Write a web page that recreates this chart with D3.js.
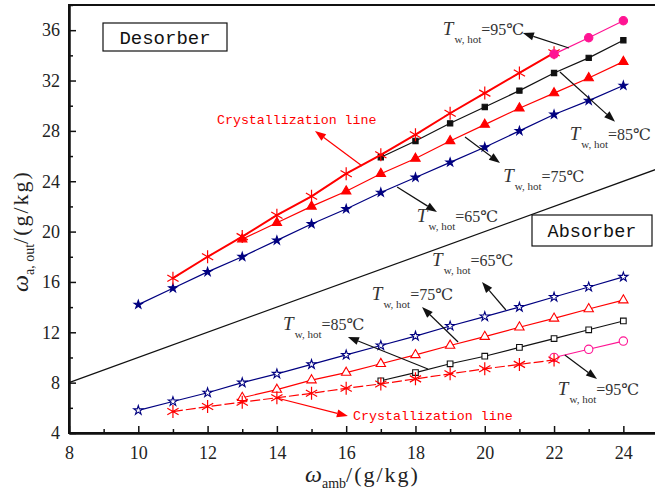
<!DOCTYPE html>
<html>
<head>
<meta charset="utf-8">
<script src="https://cdn.jsdelivr.net/npm/d3@7"></script>
<style>
	body { margin: 0; background: #fff; }
	svg { display: block; }
</style>
</head>
<body>
<div id="dataviz"></div>
<script>
// axis ticks
const xTicks = [8, 10, 12, 14, 16, 18, 20, 22, 24];
const xMinorTicks = [9, 11, 13, 15, 17, 19, 21, 23, 25];
const yTicks = [4, 8, 12, 16, 20, 24, 28, 32, 36];
const yMinorTicks = [6, 10, 14, 18, 22, 26, 30, 34, 38];

// desorber (filled markers)
const des65X = [10, 11, 12, 13, 14, 15, 16, 17, 18, 19, 20, 21, 22, 23, 24];
const des65Y = [14.2, 15.5, 16.8, 18.0, 19.3, 20.6, 21.8, 23.1, 24.3, 25.5, 26.7, 28.0, 29.3, 30.4, 31.6];
const des75X = [13, 14, 15, 16, 17, 18, 19, 20, 21, 22, 23, 24];
const des75Y = [19.4, 20.7, 22.0, 23.2, 24.6, 25.8, 27.2, 28.5, 29.8, 31.0, 32.2, 33.5];
const des85X = [17, 18, 19, 20, 21, 22, 23, 24];
const des85Y = [25.9, 27.2, 28.6, 29.9, 31.2, 32.6, 33.8, 35.2];
const des95X = [22, 23, 24];
const des95Y = [34.1, 35.4, 36.75];
const desCrystX = [11, 12, 13, 14, 15, 16, 17, 18, 19, 20, 21, 22];
const desCrystY = [16.3, 18.0, 19.6, 21.3, 22.8, 24.6, 26.1, 27.7, 29.4, 31.0, 32.6, 34.2];

// absorber (open markers)
const abs65X = [10, 11, 12, 13, 14, 15, 16, 17, 18, 19, 20, 21, 22, 23, 24];
const abs65Y = [5.8, 6.5, 7.2, 8.0, 8.7, 9.45, 10.2, 10.95, 11.7, 12.5, 13.25, 14.0, 14.8, 15.6, 16.4];
const abs75X = [13, 14, 15, 16, 17, 18, 19, 20, 21, 22, 23, 24];
const abs75Y = [6.8, 7.45, 8.2, 8.8, 9.5, 10.2, 10.95, 11.65, 12.4, 13.1, 13.85, 14.55];
const abs85X = [17, 18, 19, 20, 21, 22, 23, 24];
const abs85Y = [8.15, 8.8, 9.5, 10.1, 10.8, 11.5, 12.2, 12.9];
const abs95X = [22, 23, 24];
const abs95Y = [10.0, 10.65, 11.3];
const absCrystX = [11, 12, 13, 14, 15, 16, 17, 18, 19, 20, 21, 22];
const absCrystY = [5.7, 6.1, 6.45, 6.8, 7.15, 7.55, 7.9, 8.3, 8.7, 9.1, 9.45, 9.8];

// y = x reference line
const eqX = [8, 25];
const eqY = [8, 25];

// annotations: label, text anchor, arrow from -> to (data units)
const tempLabels = ['95', '85', '75', '65', '65', '75', '85', '95'];
const tempTextAt = [[18.79, 35.62], [22.45, 27.28], [20.53, 23.94], [18.04, 20.76],
	[18.48, 17.27], [16.74, 14.57], [14.18, 12.18], [22.11, 7.02]];
const tempArrows = [[[22.43, 34.58], [21.10, 35.78]], [[22.17, 32.68], [23.76, 28.73]],
	[[19.43, 27.51], [20.44, 25.45]], [[17.47, 23.54], [18.62, 21.56]],
	[[20.61, 13.77], [19.92, 16.0]], [[19.23, 11.23], [18.19, 14.0]],
	[[18.36, 9.08], [16.05, 11.63]], [[22.31, 10.2], [23.24, 8.29]]];
const crystTextAt = [[12.27, 28.55], [16.2, 5.03]];
const crystArrows = [[[16.46, 25.21], [15.10, 27.99]], [[14.0, 6.78], [16.05, 5.35]]];

window.onload = function() {

	const width = 655;
	const height = 496;

	const svg = d3.select('#dataviz')
		.append('svg')
		.attr('width', width)
		.attr('height', height);

	const xScale = d3.scaleLinear()
		.domain([8, 25])
		.range([69, 658]);

	const yScale = d3.scaleLinear()
		.domain([4, 38])
		.range([433, 5]);

	const navy = '#000080';
	const red = '#ff0000';
	const pink = '#ff1493';

	const zip = (xs, ys) => xs.map((v, i) => [v, ys[i]]);

	// frame
	svg.append('rect')
		.attr('x', xScale(8))
		.attr('y', yScale(38))
		.attr('width', xScale(25) - xScale(8))
		.attr('height', yScale(4) - yScale(38))
		.attr('fill', 'none')
		.attr('stroke', '#111')
		.attr('stroke-width', 2);

	// axes
	const xAxis = d3.axisBottom(xScale)
		.tickValues(xTicks)
		.tickSizeInner(-7)
		.tickSizeOuter(0)
		.tickPadding(13)
		.tickFormat(d3.format('d'));

	const xMinor = d3.axisBottom(xScale)
		.tickValues(xMinorTicks)
		.tickSizeInner(-4)
		.tickSizeOuter(0)
		.tickFormat('');

	const yAxis = d3.axisLeft(yScale)
		.tickValues(yTicks)
		.tickSizeInner(-7)
		.tickSizeOuter(0)
		.tickPadding(9)
		.tickFormat(d3.format('d'));

	const yMinor = d3.axisLeft(yScale)
		.tickValues(yMinorTicks)
		.tickSizeInner(-4)
		.tickSizeOuter(0)
		.tickFormat('');

	const styleAxis = g => {
		g.select('.domain').attr('stroke', '#111').attr('stroke-width', 2);
		g.selectAll('.tick line').attr('stroke', '#111').attr('stroke-width', 1.5);
		g.selectAll('.tick text')
			.attr('fill', '#222')
			.style('font-family', '"Liberation Serif", "DejaVu Serif", serif')
			.style('font-size', '18px');
	};

	svg.append('g').attr('transform', `translate(0, ${yScale(4)})`).call(xMinor).call(styleAxis);
	svg.append('g').attr('transform', `translate(0, ${yScale(4)})`).call(xAxis).call(styleAxis);
	svg.append('g').attr('transform', `translate(${xScale(8)}, 0)`).call(yMinor).call(styleAxis);
	svg.append('g').attr('transform', `translate(${xScale(8)}, 0)`).call(yAxis).call(styleAxis);

	// axis titles
	const serif = '"Liberation Serif", "DejaVu Serif", serif';

	const xTitle = svg.append('text')
		.attr('x', 305)
		.attr('y', 482)
		.attr('fill', '#222')
		.style('font-family', serif);
	xTitle.append('tspan').attr('font-style', 'italic').attr('font-size', 24).text('ω');
	xTitle.append('tspan').attr('font-size', 14).attr('dy', 6).text('amb');
	xTitle.append('tspan').attr('font-size', 22).attr('dy', -6).attr('letter-spacing', 2).text('/(g/kg)');

	const yTitle = svg.append('text')
		.attr('transform', 'translate(28, 292) rotate(-90)')
		.attr('fill', '#222')
		.style('font-family', serif);
	yTitle.append('tspan').attr('font-style', 'italic').attr('font-size', 24).text('ω');
	yTitle.append('tspan').attr('font-size', 14).attr('dy', 6).text('a, out');
	yTitle.append('tspan').attr('font-size', 22).attr('dy', -6).attr('letter-spacing', 2).text('/(g/kg)');

	// y = x line
	const line = d3.line()
		.x(d => xScale(d[0]))
		.y(d => yScale(d[1]));

	svg.append('path')
		.datum(zip(eqX, eqY))
		.attr('d', line)
		.attr('fill', 'none')
		.attr('stroke', '#111')
		.attr('stroke-width', 1.2);

	// marker shapes
	const asterisk = r => {
		const a = Math.PI / 6;
		const dx = r * Math.cos(a), dy = r * Math.sin(a);
		return `M0,${-r}L0,${r}M${-dx},${-dy}L${dx},${dy}M${-dx},${dy}L${dx},${-dy}`;
	};

	function drawSeries(xs, ys, opts) {
		const pts = zip(xs, ys);
		svg.append('path')
			.datum(pts)
			.attr('d', line)
			.attr('fill', 'none')
			.attr('stroke', opts.color)
			.attr('stroke-width', opts.lineWidth || 1.2)
			.attr('stroke-dasharray', opts.dash || null);

		const marks = svg.append('g')
			.selectAll('path')
			.data(pts)
			.enter()
			.append('path')
			.attr('transform', d => `translate(${xScale(d[0])}, ${yScale(d[1])})`);

		if (opts.symbol === 'asterisk') {
			marks.attr('d', asterisk(6.5))
				.attr('fill', 'none')
				.attr('stroke', opts.color)
				.attr('stroke-width', 1.2);
		} else {
			marks.attr('d', d3.symbol().type(opts.symbol).size(opts.size))
				.attr('fill', opts.open ? '#fff' : opts.color)
				.attr('stroke', opts.color)
				.attr('stroke-width', 1.1);
		}
	}

	// absorber
	drawSeries(abs65X, abs65Y, { color: navy, symbol: d3.symbolStar, size: 26, open: true });
	drawSeries(abs75X, abs75Y, { color: red, symbol: d3.symbolTriangle, size: 38, open: true });
	drawSeries(abs85X, abs85Y, { color: '#111', symbol: d3.symbolSquare, size: 32, open: true });
	drawSeries(abs95X, abs95Y, { color: pink, symbol: d3.symbolCircle, size: 55, open: true });
	drawSeries(absCrystX, absCrystY, { color: red, symbol: 'asterisk', dash: '10,3' });

	// desorber
	drawSeries(des65X, des65Y, { color: navy, symbol: d3.symbolStar, size: 22 });
	drawSeries(des75X, des75Y, { color: red, symbol: d3.symbolTriangle, size: 38 });
	drawSeries(des85X, des85Y, { color: '#111', symbol: d3.symbolSquare, size: 28 });
	drawSeries(desCrystX, desCrystY, { color: red, symbol: 'asterisk', lineWidth: 2 });
	drawSeries(des95X, des95Y, { color: pink, symbol: d3.symbolCircle, size: 55 });

	// arrows
	function drawArrow(from, to, color) {
		const x1 = xScale(from[0]), y1 = yScale(from[1]);
		const x2 = xScale(to[0]), y2 = yScale(to[1]);
		const ang = Math.atan2(y2 - y1, x2 - x1);
		const len = 11, half = 4;
		const bx = x2 - len * Math.cos(ang), by = y2 - len * Math.sin(ang);
		svg.append('line')
			.attr('x1', x1).attr('y1', y1)
			.attr('x2', bx).attr('y2', by)
			.attr('stroke', color)
			.attr('stroke-width', 1.2);
		svg.append('path')
			.attr('d', `M${x2},${y2}L${bx - half * Math.sin(ang)},${by + half * Math.cos(ang)}L${bx + half * Math.sin(ang)},${by - half * Math.cos(ang)}Z`)
			.attr('fill', color);
	}

	tempArrows.forEach(a => drawArrow(a[0], a[1], '#111'));
	crystArrows.forEach(a => drawArrow(a[0], a[1], red));

	// temperature labels
	tempLabels.forEach((t, i) => {
		const txt = svg.append('text')
			.attr('x', xScale(tempTextAt[i][0]))
			.attr('y', yScale(tempTextAt[i][1]))
			.attr('fill', '#333')
			.style('font-family', serif);
		txt.append('tspan').attr('font-style', 'italic').attr('font-size', 19).text('T');
		txt.append('tspan').attr('font-size', 11).attr('dy', 8).attr('dx', 1).text('w, hot');
		txt.append('tspan').attr('font-size', 16).attr('dy', -8).text(`=${t}℃`);
	});

	crystTextAt.forEach(p => {
		svg.append('text')
			.attr('x', xScale(p[0]))
			.attr('y', yScale(p[1]))
			.attr('fill', red)
			.style('font-family', '"Liberation Mono", "DejaVu Sans Mono", monospace')
			.style('font-size', '13.3px')
			.text('Crystallization line');
	});

	// region boxes
	const boxes = [
		{ label: 'Desorber', x: 103, y: 23, w: 124, h: 28, size: 19 },
		{ label: 'Absorber', x: 532, y: 215, w: 120, h: 31, size: 18.5 }
	];

	boxes.forEach(b => {
		svg.append('rect')
			.attr('x', b.x).attr('y', b.y)
			.attr('width', b.w).attr('height', b.h)
			.attr('fill', '#fff')
			.attr('stroke', '#111')
			.attr('stroke-width', 1.2);
		svg.append('text')
			.attr('x', b.x + b.w / 2)
			.attr('y', b.y + b.h / 2)
			.attr('dy', '0.35em')
			.attr('text-anchor', 'middle')
			.attr('fill', '#111')
			.style('font-family', '"Liberation Mono", "DejaVu Sans Mono", monospace')
			.style('font-size', `${b.size}px`)
			.text(b.label);
	});
}
</script>
</body>
</html>
